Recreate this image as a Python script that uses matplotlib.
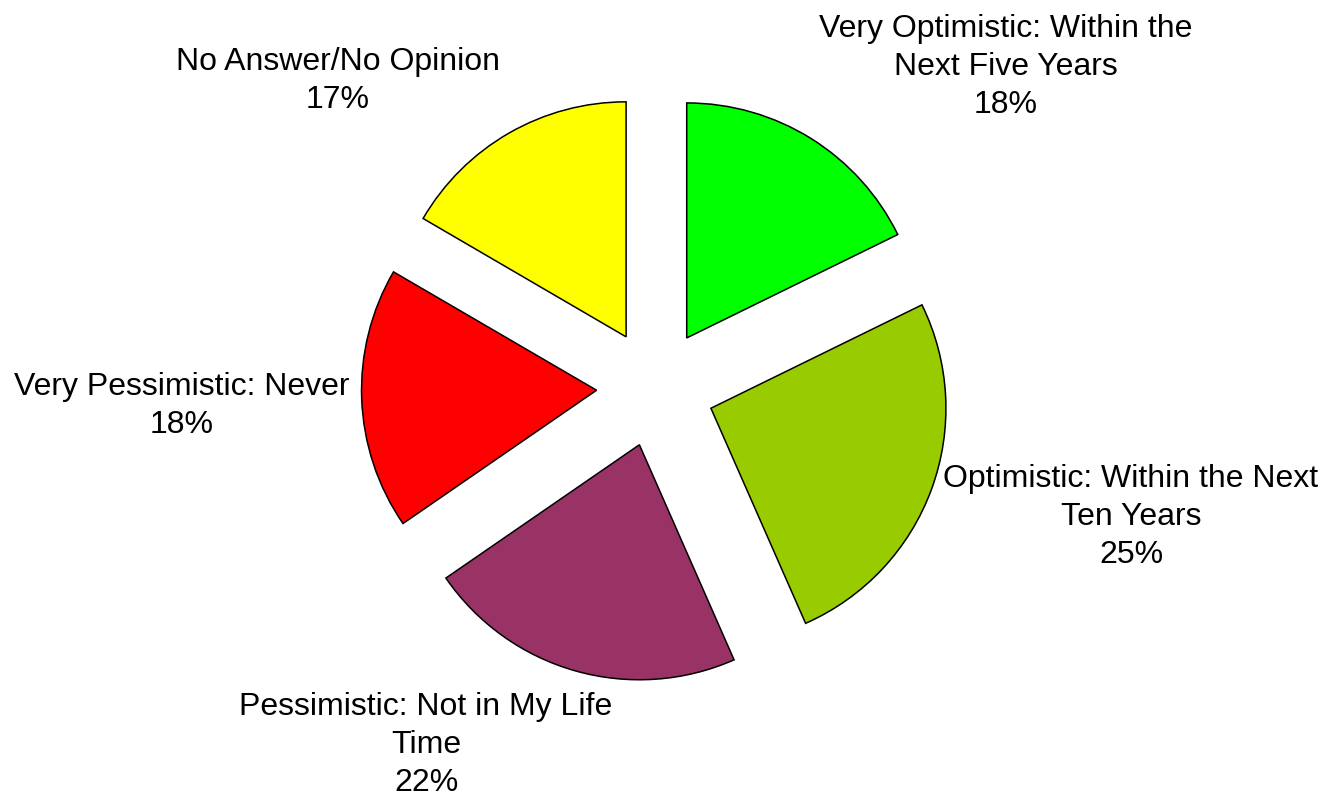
import matplotlib
matplotlib.use("Agg")
import matplotlib.pyplot as plt

categories = ["Very Optimistic: Within the\nNext Five Years",
              "Optimistic: Within the Next\nTen Years",
              "Pessimistic: Not in My Life\nTime",
              "Very Pessimistic: Never",
              "No Answer/No Opinion"]
# slice sizes; printed labels as shown
shares = [17.75, 25.65, 22.0, 18.0, 16.6]
pct_labels = [18, 25, 22, 18, 17]
colors = ["#00FF00", "#99CC00", "#993366", "#FF0000", "#FFFF00"]

# label block centres, in pixels from top-left
label_pos = [(1006, 67), (1131, 517), (426, 745), (182, 406), (338, 81)]

W, H = 1323, 796
fig = plt.figure(figsize=(W / 100, H / 100), dpi=100)
ax = fig.add_axes([0, 0, 1, 1])

# explode is in data units here (pie radius is in pixels)
ax.pie(shares, colors=colors, startangle=90, counterclock=False,
       explode=[59] * len(shares), radius=235, center=(655.5, H - 388),
       wedgeprops=dict(edgecolor="black", linewidth=1.1))

for name, val, (px, py) in zip(categories, pct_labels, label_pos):
    ax.text(px, H - py, f"{name}\n{val}%", ha="center", va="center",
            multialignment="center", fontsize=23,
            family="Liberation Sans", linespacing=1.36)

ax.set_xlim(0, W)
ax.set_ylim(0, H)
ax.set_aspect("equal")
ax.axis("off")
fig.savefig("out.png", dpi=100, facecolor="white")
